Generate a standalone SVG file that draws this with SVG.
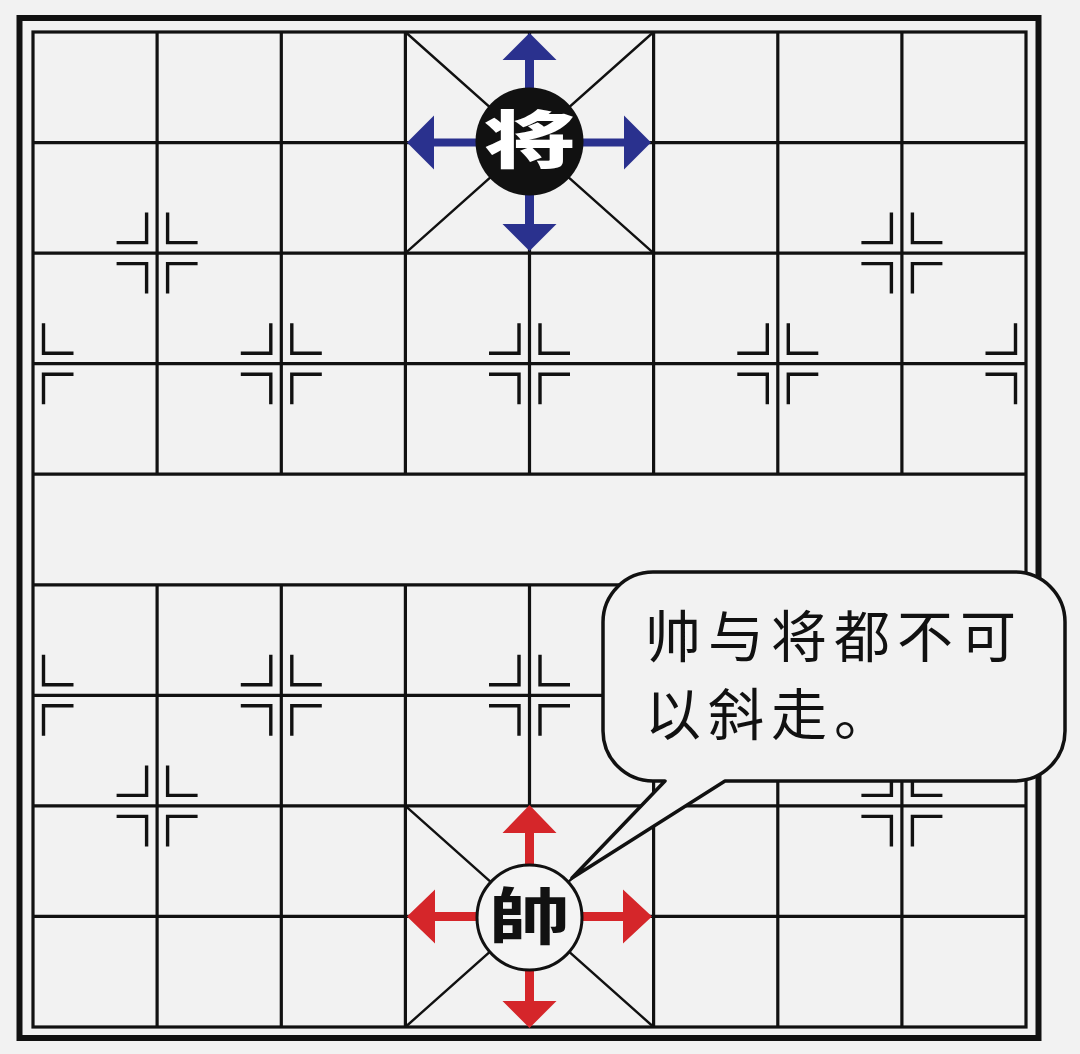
<svg xmlns="http://www.w3.org/2000/svg" xmlns:xlink="http://www.w3.org/1999/xlink" width="1080" height="1054" viewBox="0 0 1080 1054">
  <style>
    .grid { stroke: #111; stroke-width: 3.2; fill: none; }
    .diag { stroke: #111; stroke-width: 2.4; fill: none; }
    .mark { stroke: #111; stroke-width: 3.4; fill: none; stroke-linecap: butt; }
    .blue { fill: #2a318e; }
    .red { fill: #d5262a; }
    .bubble-text { font-family: "Noto Sans CJK SC", sans-serif; font-size: 56px; font-weight: 400; fill: #111; letter-spacing: 7px; }
  </style>
  <defs>
    <path id="mR" class="mark" d="M10.5,-40.5 V-10.5 H40.5 M10.5,40.5 V10.5 H40.5"/>
    <path id="mL" class="mark" d="M-10.5,-40.5 V-10.5 H-40.5 M-10.5,40.5 V10.5 H-40.5"/>
    <g id="mF"><use xlink:href="#mR"/><use xlink:href="#mL"/></g>
  </defs>

  <rect x="0" y="0" width="1080" height="1054" fill="#f2f2f2"/>

  <g id="board">
    <rect x="19.5" y="18" width="1019" height="1020" fill="none" stroke="#111" stroke-width="6"/>
    <rect class="grid" x="33" y="32" width="993" height="995"/>
    <path class="grid" d="M33,142.6 H1026 M33,253.1 H1026 M33,363.7 H1026 M33,474.2 H1026 M33,584.8 H1026 M33,695.3 H1026 M33,805.9 H1026 M33,916.4 H1026"/>
    <path class="grid" d="M157.1,32 V474.2 M281.3,32 V474.2 M405.4,32 V474.2 M529.5,32 V474.2 M653.6,32 V474.2 M777.8,32 V474.2 M901.9,32 V474.2
                          M157.1,584.8 V1027 M281.3,584.8 V1027 M405.4,584.8 V1027 M529.5,584.8 V1027 M653.6,584.8 V1027 M777.8,584.8 V1027 M901.9,584.8 V1027"/>
    <path class="diag" d="M405.4,32 L653.6,253.1 M653.6,32 L405.4,253.1 M405.4,805.9 L653.6,1027 M653.6,805.9 L405.4,1027"/>
  </g>

  <g id="markers">
    <use xlink:href="#mF" x="157.1" y="253.1"/>
    <use xlink:href="#mF" x="901.9" y="253.1"/>
    <use xlink:href="#mR" x="33" y="363.7"/>
    <use xlink:href="#mF" x="281.3" y="363.7"/>
    <use xlink:href="#mF" x="529.5" y="363.7"/>
    <use xlink:href="#mF" x="777.8" y="363.7"/>
    <use xlink:href="#mL" x="1026" y="363.7"/>
    <use xlink:href="#mR" x="33" y="695.3"/>
    <use xlink:href="#mF" x="281.3" y="695.3"/>
    <use xlink:href="#mF" x="529.5" y="695.3"/>
    <use xlink:href="#mF" x="777.8" y="695.3"/>
    <use xlink:href="#mL" x="1026" y="695.3"/>
    <use xlink:href="#mF" x="157.1" y="805.9"/>
    <use xlink:href="#mF" x="901.9" y="805.9"/>
  </g>

  <g id="connectors">
    <g id="black-arrows" class="blue">
      <path d="M529.5,33 L556.5,60 L534,60 L534,100 L525,100 L525,60 L502.5,60 Z"/>
      <path d="M529.5,251 L556.5,224 L534,224 L534,185 L525,185 L525,224 L502.5,224 Z"/>
      <path d="M407,142.6 L434,115.6 L434,138.6 L480,138.6 L480,146.6 L434,146.6 L434,169.6 Z"/>
      <path d="M651,142.6 L624,115.6 L624,138.6 L580,138.6 L580,146.6 L624,146.6 L624,169.6 Z"/>
    </g>
    <g id="red-arrows" class="red">
      <path d="M529.5,805 L556.5,833 L534,833 L534,875 L525,875 L525,833 L502.5,833 Z"/>
      <path d="M529.5,1028 L556.5,1001 L534,1001 L534,960 L525,960 L525,1001 L502.5,1001 Z"/>
      <path d="M407,916.4 L435,889.4 L435,912 L480,912 L480,921 L435,921 L435,943.4 Z"/>
      <path d="M652,916.4 L623,889.4 L623,912 L580,912 L580,921 L623,921 L623,943.4 Z"/>
    </g>
  </g>

  <g id="piece-black-general">
    <circle cx="529.5" cy="141.5" r="54" fill="#111"/>
    <text x="529.5" y="163" text-anchor="middle" font-family="Noto Sans CJK SC, sans-serif" font-size="62" font-weight="900" fill="#fff" textLength="92" lengthAdjust="spacingAndGlyphs">将</text>
  </g>

  <g id="piece-red-marshal">
    <circle cx="529.5" cy="917.5" r="52.5" fill="#f4f4f4" stroke="#111" stroke-width="3"/>
    <text x="529.5" y="940" text-anchor="middle" font-family="Noto Sans CJK TC, sans-serif" font-size="62" font-weight="700" fill="#111" textLength="82" lengthAdjust="spacingAndGlyphs">帥</text>
  </g>

  <g id="speech-bubble">
    <path d="M653,572 H1015 A50,50 0 0 1 1065,622 V731 A50,50 0 0 1 1015,781 H725 L572,878 L665,781 H653 A50,50 0 0 1 603,731 V622 A50,50 0 0 1 653,572 Z" fill="#f2f2f2" stroke="#111" stroke-width="3.5" stroke-linejoin="round"/>
    <text class="bubble-text" x="645" y="657">帅与将都不可</text>
    <text class="bubble-text" x="645" y="735">以斜走。</text>
  </g>
</svg>
